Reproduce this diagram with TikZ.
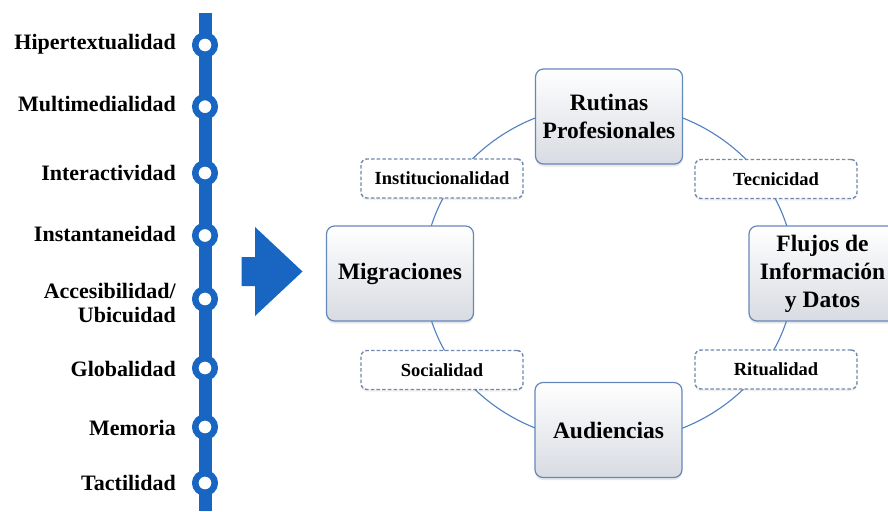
\documentclass[tikz,border=0pt]{standalone}
\usepackage{fontspec}
\setmainfont{Liberation Serif}
\usetikzlibrary{shadows}
\definecolor{lineblue}{RGB}{24,102,194}
\definecolor{boxborder}{RGB}{100,136,188}
\definecolor{dashborder}{RGB}{115,136,172}
\definecolor{ringcol}{RGB}{80,128,192}
\definecolor{boxbottom}{RGB}{216,219,226}
\begin{document}
\begin{tikzpicture}[x=1pt,y=-1pt,
  lbl/.style={font=\fontsize{22}{24.5}\selectfont\bfseries, anchor=base east, inner sep=0pt, align=right},
  stopmark/.style={circle, draw=lineblue, line width=6.5pt, fill=white, minimum size=19.5pt, inner sep=0pt},
  mainbox/.style={draw=boxborder, line width=1.2pt, rounded corners=8pt, top color=white, bottom color=boxbottom,
    minimum width=147pt, minimum height=95pt, inner sep=2pt, align=center,
    font=\fontsize{23.5}{28}\selectfont\bfseries,
    drop shadow={opacity=0.18, shadow xshift=0pt, shadow yshift=-2.5pt}},
  dashbox/.style={draw=dashborder, line width=1.4pt, dash pattern=on 3.5pt off 2.2pt, rounded corners=6pt, fill=white,
    minimum width=162pt, minimum height=39pt, inner sep=2pt,
    font=\fontsize{18.5}{22}\selectfont\bfseries,
    drop shadow={opacity=0.12, shadow xshift=0pt, shadow yshift=-2pt}},
  ring/.style={draw=ringcol, line width=1.1pt}
]
\useasboundingbox (0,0) rectangle (888,511);
\fill[white] (0,0) rectangle (888,511);

% timeline bar
\coordinate (bartop) at (205,13);
\coordinate (barbot) at (205,511);
\draw[lineblue, line width=13pt] (bartop) -- (barbot);

\node[stopmark] (s1) at (205,45) {};
\node[stopmark] (s2) at (205,106.7) {};
\node[stopmark] (s3) at (205,173) {};
\node[stopmark] (s4) at (205,235.5) {};
\node[stopmark] (s5) at (205,299) {};
\node[stopmark] (s6) at (205,368) {};
\node[stopmark] (s7) at (205,427) {};
\node[stopmark] (s8) at (205,483) {};

\node[lbl] (l1) at (176,49.3) {Hipertextualidad};
\node[lbl] (l2) at (176,111.7) {Multimedialidad};
\node[lbl] (l3) at (176,180) {Interactividad};
\node[lbl] (l4) at (176,241.7) {Instantaneidad};
\node[lbl] (l5) at (176,322.7) {Accesibilidad/\\Ubicuidad};
\node[lbl] (l6) at (176,376) {Globalidad};
\node[lbl] (l7) at (176,435) {Memoria};
\node[lbl] (l8) at (176,490.7) {Tactilidad};

% big arrow
\fill[lineblue] (241.7,257) -- (255,257) -- (255,227) -- (302.5,271.5) -- (255,316) -- (255,286) -- (241.7,286) -- cycle;

% ring
\coordinate (ringc) at (609,273);
\draw[ring] (ringc) ellipse [x radius=185, y radius=169];

% main boxes
\node[mainbox] (rut) at (609,116.5) {Rutinas\\Profesionales};
\node[mainbox] (mig) at (400,273.5) {Migraciones};
\node[mainbox] (flu) at (822.5,273.5) {Flujos de\\Información\\y Datos};
\node[mainbox] (aud) at (608.5,430) {Audiencias};

% dashed boxes
\node[dashbox] (inst) at (442,178.5) {Institucionalidad};
\node[dashbox] (tec) at (776,179) {Tecnicidad};
\node[dashbox] (soc) at (442,370) {Socialidad};
\node[dashbox] (rit) at (776,369.5) {Ritualidad};
\end{tikzpicture}
\end{document}
